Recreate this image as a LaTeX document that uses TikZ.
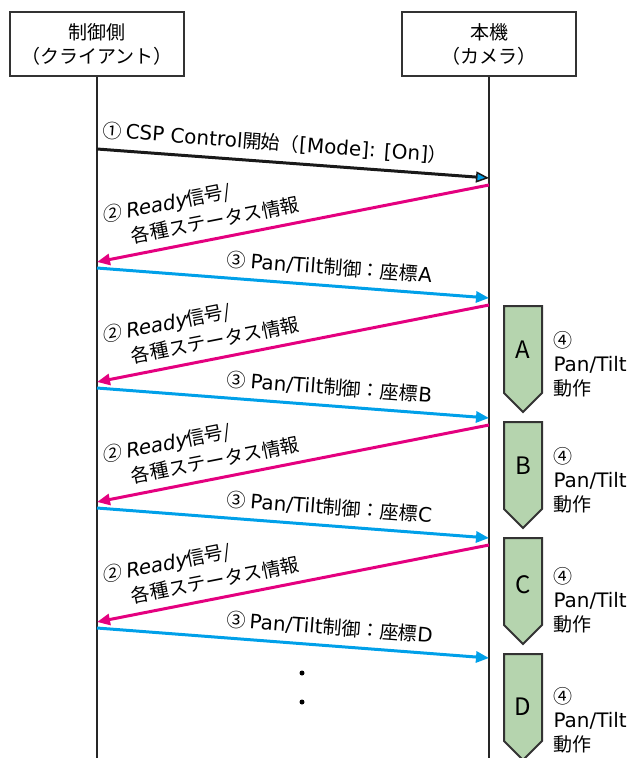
\documentclass[tikz,border=0pt]{standalone}
\usepackage{fontspec}
\setmainfont{Noto Sans CJK JP}
\newfontfamily\slfont{Noto Sans CJK JP}[FakeSlant=0.2]
\newfontfamily\latfont{DejaVu Sans}[Scale=1.05]
\newfontfamily\latslfont{DejaVu Sans}[Scale=1.05,FakeSlant=0.2]
\usetikzlibrary{arrows.meta,positioning}
\definecolor{msgpink}{HTML}{E4007F}
\definecolor{msgcyan}{HTML}{00A0E9}
\definecolor{actgreen}{HTML}{B5D4AE}
\begin{document}
\begin{tikzpicture}[
x=1pt,y=-1pt,
font=\fontsize{19}{24}\selectfont,
party/.style={draw=black!80, line width=1.3pt, minimum width=174pt, minimum height=64pt, align=center, inner sep=0pt},
life/.style={line width=2pt, black!85},
req/.style={line width=3pt, msgcyan, -{Triangle[length=13pt,width=11pt]}},
rsp/.style={line width=3pt, msgpink, -{Triangle[length=13pt,width=11pt]}},
begmsg/.style={line width=3pt, black!90, -{Triangle[length=13pt,width=11pt,line width=1.5pt,fill=msgcyan]}},
msglbl/.style={sloped, above=6pt, text=black, inner sep=2pt},
act/.style={draw=black!80, line width=2pt, fill=actgreen},
vdot/.style={circle, fill=black, inner sep=0pt, minimum size=5pt}
]
\useasboundingbox (0,0) rectangle (635,758);
\node[party] (cli) at (97,44) {制御側\\（クライアント）};
\node[party] (cam) at (489,44) {本機\\（カメラ）};
\coordinate (cliEnd) at (97,758);
\coordinate (camEnd) at (489,758);
\draw[life] (cli) -- (cliEnd);
\draw[life] (cam) -- (camEnd);
\coordinate (c0) at (97,149);
\coordinate (m0) at (489,178);
\draw[begmsg] (c0) -- node[msglbl, pos=0.45] {① {\latfont CSP Control}開始（{\latfont[Mode]: [On]}）} (m0);
\foreach \k/\n in {0/A,1/B,2/C,3/D} {
  \coordinate (mr\n) at (489,185+120*\k);
  \coordinate (cr\n) at (97,262+120*\k);
  \coordinate (cs\n) at (97,268+120*\k);
  \coordinate (ms\n) at (489,298+120*\k);
  \draw[rsp] (mr\n) -- node[msglbl, pos=0.72, align=left, font=\fontsize{19}{26}\selectfont] {{\slfont ②} {\latslfont Ready}信号/\\\hspace*{1.3em}各種ステータス情報} (cr\n);
  \draw[req] (cs\n) -- node[msglbl, pos=0.59] {③ {\latfont Pan/Tilt}制御：座標{\latfont\n}} (ms\n);
}
\foreach \n/\t/\l/\s in {A/306/350/364, B/422/466/480, C/538/585/600, D/654/707/720} {
  \draw[act] (504,\t) -- (542,\t) -- (542,\t+87) -- (523,\t+106) -- (504,\t+87) -- cycle;
  \node[font=\fontsize{24}{24}\selectfont] (blk\n) at (523,\l) {\n};
  \node[anchor=west, align=left] (op\n) at (550,\s) {④\\{\latfont Pan/Tilt}\\動作};
}
\node[vdot] (dotA) at (302,673) {};
\node[vdot] (dotB) at (302,702) {};
\end{tikzpicture}
\end{document}
